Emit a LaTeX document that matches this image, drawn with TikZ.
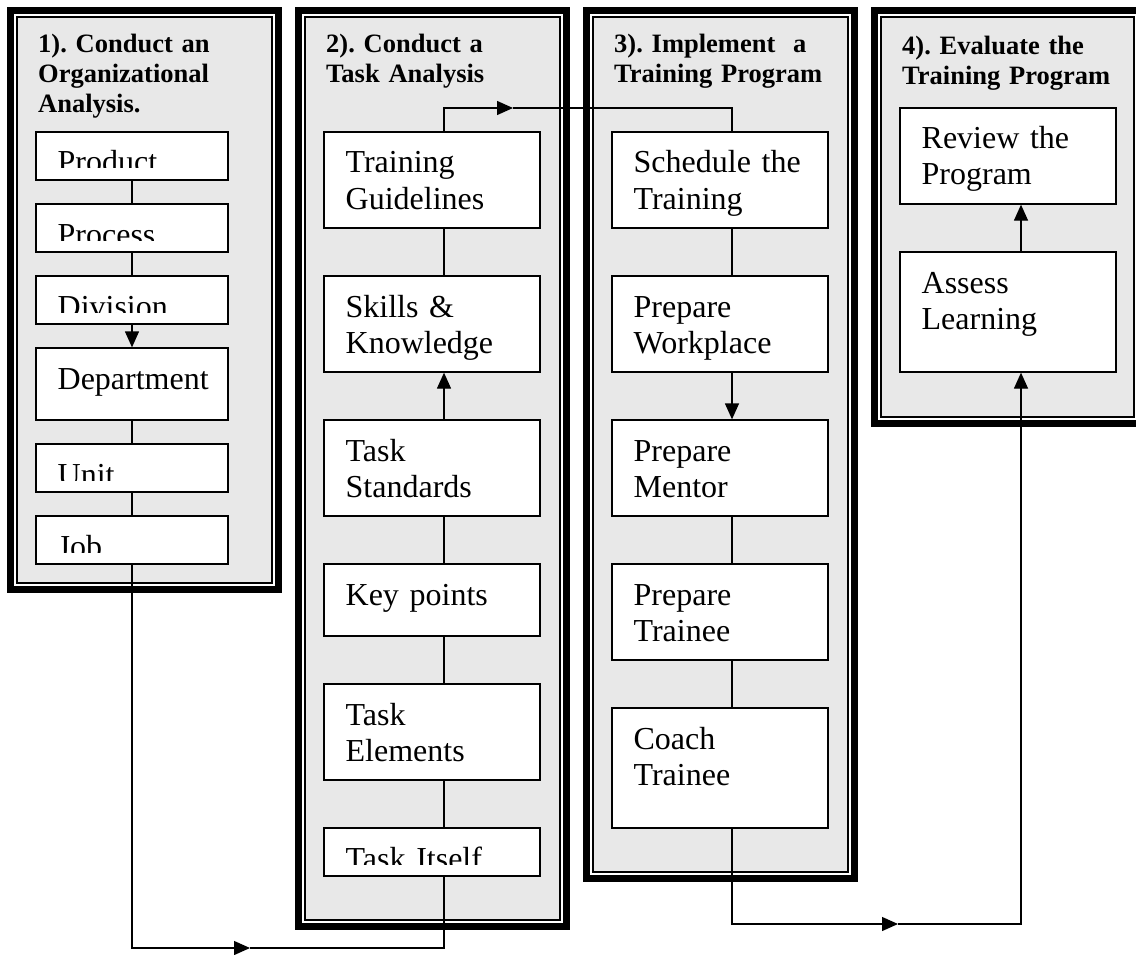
\documentclass[tikz,border=0pt]{standalone}
\usepackage{fontspec}
\setmainfont{Liberation Serif}
\usetikzlibrary{arrows.meta,calc}

\definecolor{panelgray}{gray}{0.91}
\newcommand{\boxfont}{\fontsize{32}{36}\selectfont\frenchspacing}
\newcommand{\headfont}{\bfseries\fontsize{26.5}{30}\selectfont\frenchspacing}

\tikzset{
  boxtext/.style={anchor=base west, inner sep=0pt, minimum width=0pt, minimum height=0pt,
    text width=190, align=left, font=\boxfont},
  headtext/.style={anchor=base west, inner sep=0pt, text width=240, align=left, font=\headfont},
  outerframe/.style={line width=7pt},
  innerframe/.style={draw, line width=1.3pt, fill=panelgray},
  stagebox/.style={draw, fill=white, line width=1.3pt, minimum width=216, inner sep=0pt,
    path picture={\node[boxtext] at ($(path picture bounding box.north west)+(21,41)$) {#1};}},
  % one-line boxes whose text runs past the bottom margin
  cutbox/.style={draw, fill=white, line width=1.3pt, minimum width=192, minimum height=48, inner sep=0pt,
    path picture={\clip (path picture bounding box.north west) rectangle ($(path picture bounding box.south east)+(0,-12)$);
      \node[boxtext] at ($(path picture bounding box.north west)+(21,41)$) {#1};}},
  link/.style={line width=1.3pt},
  flow/.style={line width=1.3pt, -{Triangle[length=16pt,width=14pt]}}
}

\begin{document}
\begin{tikzpicture}[x=1pt, y=-1pt]
\useasboundingbox (0,0) rectangle (1136,955);

% the four stage panels
\draw[outerframe] (10.5,10.5) rectangle (278.5,589.5);
\draw[innerframe] (17,17) rectangle (272,583);
\draw[outerframe] (298.5,10.5) rectangle (566.5,926.5);
\draw[innerframe] (305,17) rectangle (560,920);
\draw[outerframe] (586.5,10.5) rectangle (854.5,878.5);
\draw[innerframe] (593,17) rectangle (848,872);
\draw[outerframe] (874.5,10.5) rectangle (1140.5,423.5);
\draw[innerframe] (881,17) rectangle (1134,417);

\node[headtext] (h1) at (38,53) {1). Conduct an\\Organizational\\Analysis.};
\node[headtext] (h2) at (326,53) {2). Conduct a\\Task Analysis};
\node[headtext] (h3) at (614,53) {3). Implement\ \ a\\Training Program};
\node[headtext] (h4) at (902,55) {4). Evaluate the\\Training Program};

% organizational analysis
\node[cutbox=Product] (prod) at (132,156) {};
\node[cutbox=Process] (proc) at (132,228) {};
\node[cutbox=Division] (div) at (132,300) {};
\node[stagebox=Department, minimum width=192, minimum height=72] (dept) at (132,384) {};
\node[cutbox=Unit] (unit) at (132,468) {};
\node[cutbox=Job] (job) at (132,540) {};

% task analysis
\node[stagebox={Training\\Guidelines}, minimum height=96] (guide) at (432,180) {};
\node[stagebox={Skills \&\\Knowledge}, minimum height=96] (skills) at (432,324) {};
\node[stagebox={Task\\Standards}, minimum height=96] (stds) at (432,468) {};
\node[stagebox={Key points}, minimum height=72] (keys) at (432,600) {};
\node[stagebox={Task\\Elements}, minimum height=96] (elems) at (432,732) {};
\node[cutbox={Task Itself}, minimum width=216] (task) at (432,852) {};

% training program
\node[stagebox={Schedule the\\Training}, minimum height=96] (sched) at (720,180) {};
\node[stagebox={Prepare\\Workplace}, minimum height=96] (work) at (720,324) {};
\node[stagebox={Prepare\\Mentor}, minimum height=96] (mentor) at (720,468) {};
\node[stagebox={Prepare\\Trainee}, minimum height=96] (trainee) at (720,612) {};
\node[stagebox={Coach\\Trainee}, minimum height=120] (coach) at (720,768) {};

% evaluation
\node[stagebox={Review the\\Program}, minimum height=96] (review) at (1008,156) {};
\node[stagebox={Assess\\Learning}, minimum height=120] (assess) at (1008,312) {};

\draw[link] (prod) -- (proc);
\draw[link] (proc) -- (div);
\draw[flow] (div) -- (dept);
\draw[link] (dept) -- (unit);
\draw[link] (unit) -- (job);

\draw[link] ([xshift=12]guide.south) -- ([xshift=12]skills.north);
\draw[flow] ([xshift=12]stds.north) -- ([xshift=12]skills.south);
\draw[link] ([xshift=12]stds.south) -- ([xshift=12]keys.north);
\draw[link] ([xshift=12]keys.south) -- ([xshift=12]elems.north);
\draw[link] ([xshift=12]elems.south) -- ([xshift=12]task.north);

\draw[link] ([xshift=12]sched.south) -- ([xshift=12]work.north);
\draw[flow] ([xshift=12]work.south) -- ([xshift=12]mentor.north);
\draw[link] ([xshift=12]mentor.south) -- ([xshift=12]trainee.north);
\draw[link] ([xshift=12]trainee.south) -- ([xshift=12]coach.north);

\draw[flow] ([xshift=13]assess.north) -- ([xshift=13]review.south);

% links between the stages
\coordinate (turn1) at (250,948);
\draw[flow] (job.south) |- (turn1);
\draw[link] (turn1) -| ([xshift=12]task.south);
\coordinate (turn2) at (513,108);
\draw[flow] ([xshift=12]guide.north) |- (turn2);
\draw[link] (turn2) -| ([xshift=12]sched.north);
\coordinate (turn3) at (898,924);
\draw[flow] ([xshift=12]coach.south) |- (turn3);
\draw[flow] (turn3) -| ([xshift=13]assess.south);
\end{tikzpicture}
\end{document}
